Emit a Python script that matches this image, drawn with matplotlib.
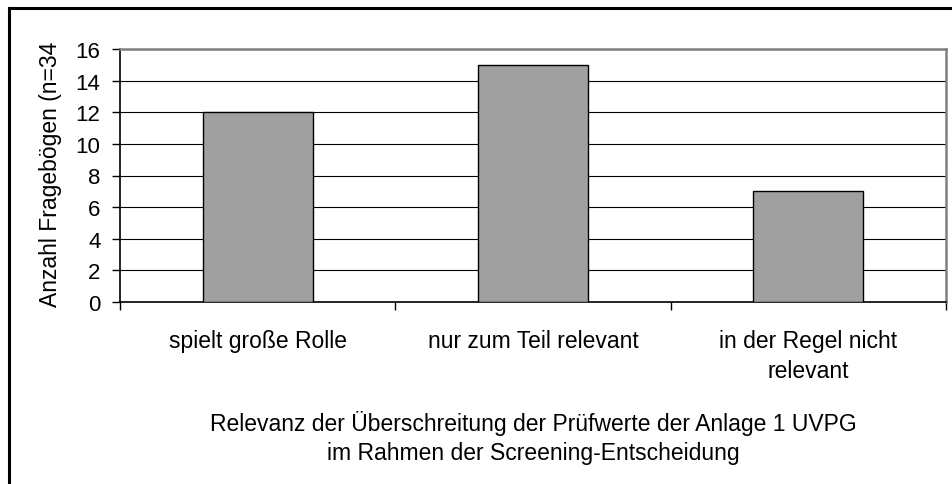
import matplotlib
matplotlib.use("Agg")
import matplotlib.pyplot as plt
from matplotlib.lines import Line2D
from matplotlib.transforms import blended_transform_factory

plt.rcParams['font.family'] = ['Liberation Sans', 'DejaVu Sans']

categories = ["spielt große Rolle", "nur zum Teil relevant", "in der Regel nicht\nrelevant"]
values = [12, 15, 7]
yticks = [0, 2, 4, 6, 8, 10, 12, 14, 16]
ylabel = "Anzahl Fragebögen (n=34"
xtitle = "Relevanz der Überschreitung der Prüfwerte der Anlage 1 UVPG\nim Rahmen der Screening-Entscheidung"

W, H = 952, 485
FS = 16.5
fig = plt.figure(figsize=(W / 100, H / 100), dpi=100)
ax = fig.add_axes([120 / W, 1 - 303 / H, (946 - 120) / W, (303 - 50) / H])

x = list(range(len(categories)))
ax.bar(x, values, width=0.4, color="#a0a0a0", edgecolor="black", linewidth=1.0, zorder=3)

ax.set_xlim(-0.5, len(categories) - 0.5)
ax.set_ylim(0, 16)
ax.set_yticks(yticks)
ax.set_yticklabels([str(v) for v in yticks], fontsize=16)
ax.yaxis.grid(True, color="black", linewidth=0.8, zorder=0)
ax.set_axisbelow(True)

ax.set_xticks([i - 0.5 for i in range(len(categories) + 1)])
ax.set_xticklabels([])
ax.tick_params(axis="x", direction="out", length=6, width=1, color="black")
ax.tick_params(axis="y", direction="out", length=6, width=1, color="black", pad=8)

for side in ("left", "bottom"):
    ax.spines[side].set_color("black")
    ax.spines[side].set_linewidth(1.2)
for side in ("top", "right"):
    ax.spines[side].set_color("#808080")
    ax.spines[side].set_linewidth(1.8)

fig.text(51 / W, 1 - 174 / H, ylabel, rotation=90, ha="center", va="center", fontsize=FS)

trans = blended_transform_factory(ax.transData, fig.transFigure)
for i, c in enumerate(categories):
    for j, line in enumerate(c.split("\n")):
        ax.text(i, 1 - (348 + j * 30) / H, line, transform=trans,
                ha="center", va="baseline", fontsize=FS)

for j, line in enumerate(xtitle.split("\n")):
    fig.text(533 / W, 1 - (431 + j * 29) / H, line, ha="center", va="baseline", fontsize=FS)

# outer frame (partially visible)
fig.add_artist(Line2D([8.5 / W, 8.5 / W], [0, 1 - 9 / H], transform=fig.transFigure,
                      color="black", linewidth=2.2))
fig.add_artist(Line2D([8.5 / W, 1], [1 - 9 / H, 1 - 9 / H], transform=fig.transFigure,
                      color="black", linewidth=2.2))

fig.savefig("out.png", dpi=100)
